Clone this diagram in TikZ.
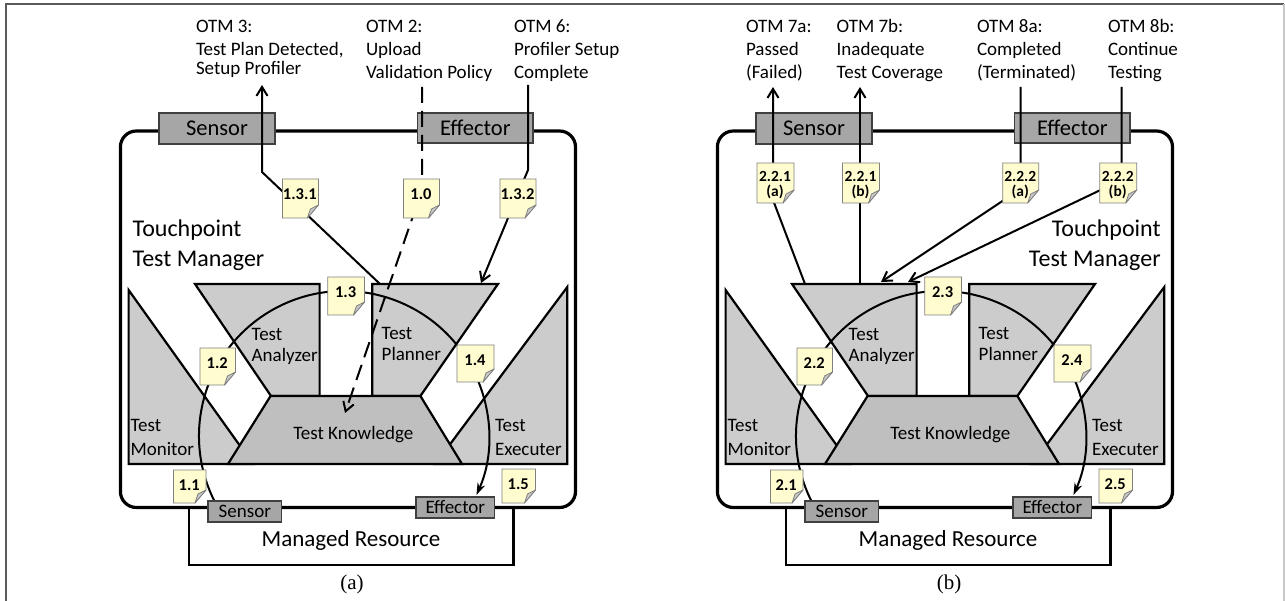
\documentclass[tikz,border=0pt]{standalone}
\usepackage{fontspec}
\setmainfont{Carlito}
\newfontfamily\serifcap{Liberation Serif}
\usetikzlibrary{arrows.meta,calc}

\definecolor{compgray}{RGB}{204,204,204}
\definecolor{knowgray}{RGB}{191,191,191}
\definecolor{boxgray}{RGB}{166,166,166}
\definecolor{noteyel}{RGB}{255,253,208}
\definecolor{notegray}{RGB}{128,128,128}
\definecolor{foldgray}{RGB}{200,200,200}
\definecolor{framedark}{RGB}{90,90,90}
\definecolor{framelight}{RGB}{200,200,200}

\tikzset{
  tpbox/.style={draw, line width=3.2pt, rounded corners=16pt},
  mrbox/.style={draw, line width=2.6pt},
  comp/.style={draw, fill=compgray, line width=2.2pt},
  know/.style={draw, fill=knowgray, line width=2.2pt},
  iobox/.style={draw=black!75, fill=boxgray, line width=1.5pt, inner sep=0pt, outer sep=0pt},
  lbl/.style={inner sep=0pt, outer sep=0pt, align=left, font=\fontsize{19}{21.5}\selectfont},
  otm/.style={inner sep=0pt, outer sep=0pt, align=left, anchor=base west, font=\fontsize{19}{23}\selectfont},
  big/.style={inner sep=0pt, outer sep=0pt, font=\fontsize{24}{30}\selectfont},
  conn/.style={line width=2pt},
  arr/.style={-{Straight Barb[length=9pt,width=11pt]}},
  dsh/.style={dash pattern=on 16pt off 8pt},
  cyc/.style={line width=2pt, -{Stealth[length=12pt,width=8pt]}},
  notebase/.style={inner sep=0pt, outer sep=0pt},
  noteedge/.style={draw=notegray, fill=noteyel, line width=0.8pt},
  notefold/.style={draw=notegray, fill=foldgray, line width=0.8pt, line join=round},
  notetext/.style={align=center, anchor=base, inner sep=0pt, outer sep=0pt},
  capst/.style={font=\serifcap\fontsize{21}{23}\selectfont, anchor=base, inner sep=0pt}
}

% #7 = baseline offset of the last text line from the note top, #8 = font
\newcommand{\noteshape}[8]{%
  \node[notebase, minimum width=#4pt, minimum height=#5pt] (#1) at ({#2+#4/2},{#3+#5/2}) {};
  \draw[noteedge] (#1.north west) -- (#1.north east) -- ([yshift=13pt]#1.south east) -- ([xshift=-11pt]#1.south east) -- (#1.south west) -- cycle;
  \draw[notefold] ([yshift=13pt]#1.south east) -- ([xshift=-8pt,yshift=9pt]#1.south east) -- ([xshift=-11pt]#1.south east) -- cycle;
  \node[notetext, font=#8] (#1t) at ({#2+#4/2-0.5},{#3+#7}) {#6};
}
\newcommand{\notebox}[6]{\noteshape{#1}{#2}{#3}{#4}{#5}{#6}{20.5}{\bfseries\fontsize{16.5}{17}\selectfont}}
\newcommand{\notetwo}[6]{\noteshape{#1}{#2}{#3}{#4}{#5}{#6}{33.5}{\bfseries\fontsize{15.5}{14.5}\selectfont}}

\newcommand{\panelbody}[3]{%
  \draw[tpbox] (120.4,131) rectangle (575.5,507.5);
  \draw[mrbox] (189,507.5) rectangle (513.5,565);
  \node[inner sep=0pt, font=\fontsize{23}{25}\selectfont, anchor=base] (#1mr) at (351,546.7) {Managed Resource};
  \draw[comp] (128.6,290) -- (253,464) -- (128.6,464) -- cycle;
  \draw[comp] (567.3,287) -- (435.3,464) -- (567.3,464) -- cycle;
  \draw[comp] (195,284) -- (319.6,284) -- (319.6,396) -- (271,396) -- cycle;
  \draw[comp] (372.2,284) -- (498,284) -- (420.4,396) -- (372.2,396) -- cycle;
  \draw[know] (228,464) -- (270.6,396) -- (420.4,396) -- (462,464) -- cycle;
  \node[lbl, anchor=base west] (#1an) at (251.7,361.7) {Test\\Analyzer};
  \node[lbl, anchor=base west] (#1pl) at (381.7,360.7) {Test\\Planner};
  \node[lbl, anchor=base west, font=\fontsize{19}{23.3}\selectfont] (#1mo) at (130.6,455) {Test\\Monitor};
  \node[lbl, anchor=base west, font=\fontsize{19}{23.3}\selectfont] (#1ex) at (495,455) {Test\\Executer};
  \node[lbl, anchor=base] (#1kn) at (353.3,439) {Test Knowledge};
  \coordinate (#1cc) at (344,436);
  \draw[cyc] ([shift={(152:145)}]#1cc) arc[start angle=152, end angle=384, radius=145];
  \node[iobox, minimum width=116pt, minimum height=31pt, font=\fontsize{22.5}{24}\selectfont] (#1sen) at (217,128.5) {Sensor};
  \node[iobox, minimum width=115.4pt, minimum height=30pt, font=\fontsize{22.5}{24}\selectfont] (#1eff) at (475.3,128) {Effector};
  \node[iobox, minimum width=73.6pt, minimum height=21pt, font=\fontsize{19}{21}\selectfont] (#1bsen) at (244.8,511.5) {Sensor};
  \node[iobox, minimum width=78.7pt, minimum height=21pt, font=\fontsize{19}{21}\selectfont] (#1beff) at (455.3,507.5) {Effector};
  \notebox{#1n1}{173.5}{470}{32.5}{33}{#2.1}
  \notebox{#1n2}{200}{348}{35.5}{37}{#2.2}
  \notebox{#1n3}{327.8}{277}{36.7}{38}{#2.3}
  \notebox{#1n4}{457}{345}{37}{37}{#2.4}
  \notebox{#1n5}{502}{469}{33.5}{34}{#2.5}
  \node[capst] (#1cap) at (352,589) {#3};
}

\begin{document}
\begin{tikzpicture}[x=1pt,y=-1pt]
\useasboundingbox (0,0) rectangle (1285,601);
\fill[white] (0,0) rectangle (1285,601);
\draw[framedark, line width=2pt] (6,601) -- (6,4.5) -- (1284,4.5);
\draw[framelight, line width=1.5pt] (1284,4.5) -- (1284,601);

% ---------- panel (a)
\panelbody{a}{1}{(a)}
\node[big, anchor=base west, align=left] (atm) at (132.7,266.7) {Touchpoint\\Test Manager};
\node[otm] (aotm3) at (196,75) {OTM 3:\\[0.7pt]Test Plan Detected,\\[-4pt]Setup Profiler};
\node[otm] (aotm2) at (366,78.3) {OTM 2:\\Upload\\Validation Policy};
\node[otm] (aotm6) at (514,78.3) {OTM 6:\\Profiler Setup\\Complete};

\coordinate (a131s) at (380,284);
\coordinate (a131b) at (262,172);
\coordinate (a131e) at (262,85);
\draw[conn, arr] (a131s) -- (a131b) -- (a131e);
\coordinate (a10s) at (422,87);
\coordinate (a10b) at (422,190);
\coordinate (a10e) at (345,413);
\draw[conn, dsh, arr] (a10s) -- (a10b) -- (a10e);
\coordinate (a132s) at (528,85);
\coordinate (a132b) at (528,170);
\coordinate (a132e) at (481,283);
\draw[conn, arr] (a132s) -- (a132b) -- (a132e);
\notebox{an131}{282.4}{179}{36}{39}{1.3.1}
\notebox{an10}{403.5}{179}{36}{39}{1.0}
\notebox{an132}{500}{179}{36}{39}{1.3.2}

% ---------- panel (b)
\begin{scope}[xshift=597pt]
\panelbody{b}{2}{(b)}
\end{scope}
\node[big, anchor=base east, align=right] (btm) at (1160.6,266.7) {Touchpoint\\Test Manager};
\node[otm] (botm7a) at (746,78.3) {OTM 7a:\\Passed\\(Failed)};
\node[otm] (botm7b) at (836.7,78.3) {OTM 7b:\\Inadequate\\Test Coverage};
\node[otm] (botm8a) at (977,78.3) {OTM 8a:\\Completed\\(Terminated)};
\node[otm] (botm8b) at (1108,78.3) {OTM 8b:\\Continue\\Testing};

\coordinate (b221as) at (805,284);
\coordinate (b221ab) at (773,200);
\coordinate (b221ae) at (773,87);
\draw[conn, arr] (b221as) -- (b221ab) -- (b221ae);
\coordinate (b221bs) at (860,284);
\coordinate (b221be) at (860,87);
\draw[conn, arr] (b221bs) -- (b221be);
\coordinate (b222as) at (1020.5,87);
\coordinate (b222ab) at (1020.5,189);
\coordinate (b222ae) at (881,282);
\draw[conn, arr] (b222as) -- (b222ab) -- (b222ae);
\coordinate (b222bs) at (1121.5,87);
\coordinate (b222bb) at (1121.5,180);
\coordinate (b222be) at (908,282);
\draw[conn, arr] (b222bs) -- (b222bb) -- (b222be);
\notetwo{bn221a}{757}{163}{37}{40}{2.2.1\\(a)}
\notetwo{bn221b}{842.5}{163}{37}{40}{2.2.1\\(b)}
\notetwo{bn222a}{1002.7}{163}{36}{40}{2.2.2\\(a)}
\notetwo{bn222b}{1099.7}{163}{37}{40}{2.2.2\\(b)}
\end{tikzpicture}
\end{document}
